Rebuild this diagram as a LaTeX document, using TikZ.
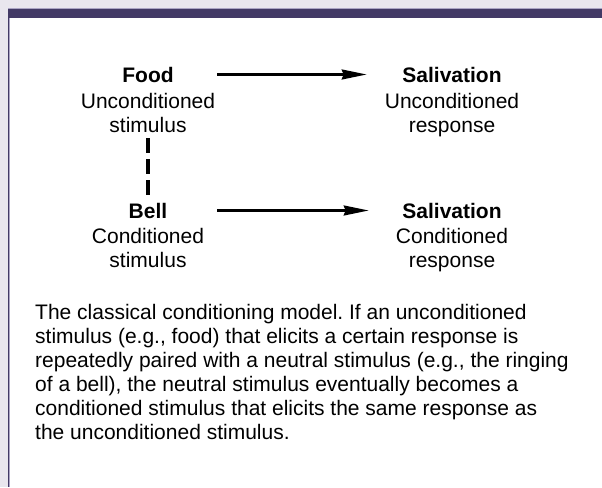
\documentclass[tikz,border=0pt]{standalone}
\usepackage{fontspec}
\setmainfont{Liberation Sans}
\frenchspacing
\usetikzlibrary{arrows.meta}
\definecolor{pagebg}{HTML}{E9E6EE}
\definecolor{barpurple}{HTML}{433A66}
\definecolor{edgelilac}{HTML}{ABA4C4}

\begin{document}
\begin{tikzpicture}[x=1pt, y=-1pt,
    title/.style={font=\fontsize{21}{24.5}\selectfont\bfseries, inner sep=0pt, anchor=base},
    sub/.style={font=\fontsize{21}{24.5}\selectfont, align=center, inner sep=0pt, anchor=north},
    arr/.style={line width=2.2pt, -{Stealth[length=25pt, width=10pt, inset=2pt]}},
  ]
  % frame
  \fill[pagebg] (0,0) rectangle (602,487);
  \fill[white] (8,9) rectangle (602,487);
  \fill[edgelilac] (8,8) rectangle (602,9);
  \fill[barpurple] (8,9) rectangle (602,18);
  \fill[barpurple] (7.7,9) rectangle (9,487);
  \fill[edgelilac] (9,18) rectangle (10,487);

  \node[title] (food) at (148,82) {Food};
  \node[sub] (foodsub) at (148,92.7) {Unconditioned\\stimulus};
  \node[title] (salivU) at (452,82) {Salivation};
  \node[sub] (salivUsub) at (452,92.7) {Unconditioned\\response};

  \node[title] (bell) at (148,218) {Bell};
  \node[sub] (bellsub) at (148,227.7) {Conditioned\\stimulus};
  \node[title] (salivC) at (452,218) {Salivation};
  \node[sub] (salivCsub) at (452,227.7) {Conditioned\\response};

  \draw[arr, shorten <=2pt, shorten >=18pt] (foodsub.east |- food) -- (salivUsub.west |- salivU);
  \draw[arr, shorten <=2pt, shorten >=16pt] (foodsub.east |- bell) -- (salivUsub.west |- salivC);
  \draw[line width=4pt, dash pattern=on 15pt off 6pt, shorten <=5pt, shorten >=7pt] (foodsub.south) -- (bell.north);

  \node[font=\fontsize{21}{24}\selectfont, align=left, anchor=north west, inner sep=0pt] (caption) at (35,303.7)
    {The classical conditioning model. If an unconditioned\\
     stimulus (e.g., food) that elicits a certain response is\\
     repeatedly paired with a neutral stimulus (e.g., the ringing\\
     of a bell), the neutral stimulus eventually becomes a\\
     conditioned stimulus that elicits the same response as\\
     the unconditioned stimulus.};
\end{tikzpicture}
\end{document}
